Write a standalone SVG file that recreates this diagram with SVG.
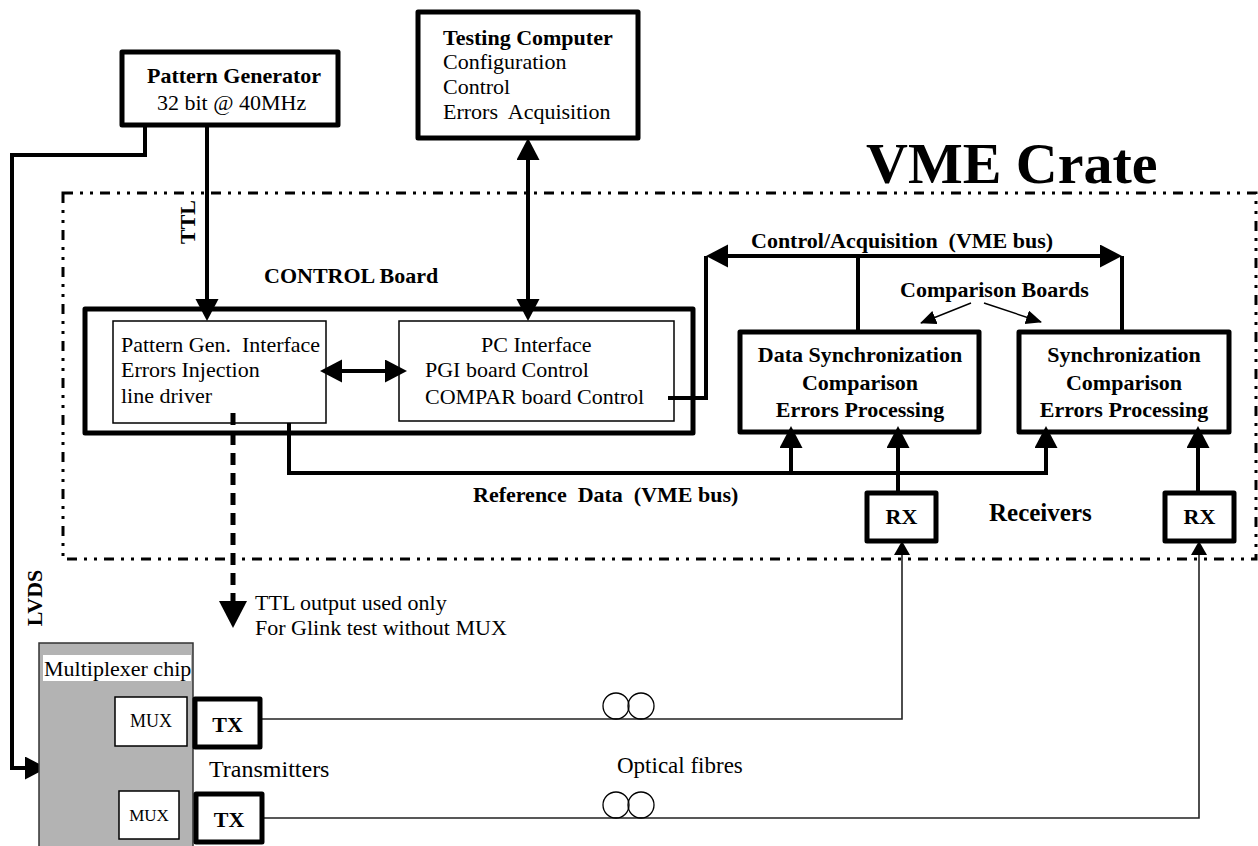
<svg xmlns="http://www.w3.org/2000/svg" width="1258" height="846" viewBox="0 0 1258 846">
<style>
text{font-family:"Liberation Serif","Times New Roman",serif;fill:#000}
.b{font-weight:bold}
.f22{font-size:22px}
.thick{fill:#fff;stroke:#000;stroke-width:5;stroke-linejoin:round}
.thin{fill:#fff;stroke:#000;stroke-width:1.5}
.con{fill:none;stroke:#000;stroke-width:4}
.fib{fill:none;stroke:#222;stroke-width:1.6}
.loop{fill:none;stroke:#000;stroke-width:1.3}
</style>
<defs>
<marker id="ah" markerUnits="userSpaceOnUse" markerWidth="24" markerHeight="24" refX="18" refY="11.5" orient="auto-start-reverse" viewBox="0 0 24 24"><path d="M0,0 L22,11.5 L0,23 z" fill="#000"/></marker>
<marker id="ahs" markerUnits="userSpaceOnUse" markerWidth="16" markerHeight="18" refX="13" refY="8" orient="auto" viewBox="0 0 16 18"><path d="M0,0 L14,8 L0,16 z" fill="#000"/></marker>
<marker id="ahc" markerUnits="userSpaceOnUse" markerWidth="18" markerHeight="16" refX="15" refY="7" orient="auto" viewBox="0 0 18 16"><path d="M0,0 L16,7 L0,14 z" fill="#000"/></marker>
<marker id="ahd" markerUnits="userSpaceOnUse" markerWidth="28" markerHeight="30" refX="0" refY="14" orient="auto" viewBox="0 0 28 30"><path d="M0,0 L27,14 L0,28 z" fill="#000"/></marker>
</defs>

<g id="vme-crate">
<rect x="63" y="193" width="1193" height="366" fill="none" stroke="#000" stroke-width="3" stroke-dasharray="10 7 3 7 3 7"/>
<text class="b" x="866" y="183" font-size="58">VME Crate</text>
</g>

<g id="connectors">
<path class="con" d="M145,125 V155 H12 V768 H43" marker-end="url(#ah)"/>
<path class="con" d="M207,125 V317" marker-end="url(#ah)"/>
<path class="con" d="M528,142 V317" marker-start="url(#ah)" marker-end="url(#ah)"/>
<path class="con" d="M324,371 H403" marker-start="url(#ah)" marker-end="url(#ah)"/>
<path class="con" d="M668,398 H706 V256"/>
<path class="con" d="M710,256 H1118" marker-start="url(#ah)" marker-end="url(#ah)"/>
<path class="con" d="M858,256 V332"/>
<path class="con" d="M1122,256 V332"/>
<path class="con" d="M289,423 V473 H1046 V430" marker-end="url(#ah)"/>
<path class="con" d="M791,473 V430" marker-end="url(#ah)"/>
<path class="con" d="M898,493 V430" marker-end="url(#ah)"/>
<path class="con" d="M1198,493 V430" marker-end="url(#ah)"/>
<path d="M233,413 V601" fill="none" stroke="#000" stroke-width="5" stroke-dasharray="12 8" marker-end="url(#ahd)"/>
<path class="fib" d="M260,719 H902 V542" marker-end="url(#ahs)"/>
<path class="fib" d="M262,818 H1199 V542" marker-end="url(#ahs)"/>
<path d="M971,303 L921,323" fill="none" stroke="#000" stroke-width="1.5" marker-end="url(#ahc)"/>
<path d="M984,303 L1041,322" fill="none" stroke="#000" stroke-width="1.5" marker-end="url(#ahc)"/>
<circle class="loop" cx="616" cy="706" r="13"/>
<circle class="loop" cx="641" cy="706" r="13"/>
<circle class="loop" cx="616" cy="805" r="13"/>
<circle class="loop" cx="641" cy="805" r="13"/>
</g>

<g id="labels">
<text class="b f22" transform="translate(195,222) rotate(-90)" text-anchor="middle">TTL</text>
<text class="b f22" transform="translate(42,598) rotate(-90)" text-anchor="middle">LVDS</text>
<text class="b f22" x="264" y="283">CONTROL Board</text>
<text class="b f22" x="751" y="248" xml:space="preserve">Control/Acquisition  (VME bus)</text>
<text class="b f22" x="900" y="297">Comparison Boards</text>
<text class="b f22" x="473" y="502" xml:space="preserve">Reference  Data  (VME bus)</text>
<text class="b" x="989" y="521" font-size="25">Receivers</text>
<text x="209" y="777" font-size="24">Transmitters</text>
<text x="617" y="773" font-size="23">Optical fibres</text>
<text class="f22" x="255" y="610">TTL output used only</text>
<text class="f22" x="255" y="635">For Glink test without MUX</text>
</g>

<g id="pattern-generator">
<rect class="thick" x="122" y="52" width="216" height="73"/>
<text class="b f22" x="147" y="83">Pattern Generator</text>
<text class="f22" x="157" y="110">32 bit @ 40MHz</text>
</g>

<g id="testing-computer">
<rect class="thick" x="418" y="12" width="220" height="126"/>
<text class="b f22" x="443" y="45">Testing Computer</text>
<text class="f22" x="443" y="69">Configuration</text>
<text class="f22" x="443" y="94">Control</text>
<text class="f22" x="443" y="119" xml:space="preserve">Errors  Acquisition</text>
</g>

<g id="control-board">
<rect class="thick" x="85" y="309" width="608" height="124" style="fill:none"/>
<rect class="thin" x="113" y="321" width="213" height="102" style="fill:none"/>
<rect class="thin" x="399" y="321" width="275" height="100" style="fill:none"/>
<text class="f22" x="121" y="352" xml:space="preserve">Pattern Gen.  Interface</text>
<text class="f22" x="121" y="377">Errors Injection</text>
<text class="f22" x="121" y="403">line driver</text>
<text class="f22" x="481" y="352">PC Interface</text>
<text class="f22" x="425" y="377">PGI board Control</text>
<text class="f22" x="425" y="404">COMPAR board Control</text>
</g>

<g id="comparison-board-1">
<rect class="thick" x="740" y="332" width="239" height="100" style="fill:none"/>
<text class="b f22" x="860" y="362" text-anchor="middle">Data Synchronization</text>
<text class="b f22" x="860" y="390" text-anchor="middle">Comparison</text>
<text class="b f22" x="860" y="417" text-anchor="middle">Errors Processing</text>
</g>

<g id="comparison-board-2">
<rect class="thick" x="1019" y="332" width="210" height="100" style="fill:none"/>
<text class="b f22" x="1124" y="362" text-anchor="middle">Synchronization</text>
<text class="b f22" x="1124" y="390" text-anchor="middle">Comparison</text>
<text class="b f22" x="1124" y="417" text-anchor="middle">Errors Processing</text>
</g>

<g id="rx-1">
<rect class="thick" x="867" y="493" width="69" height="48"/>
<text class="b f22" x="901.5" y="524" text-anchor="middle">RX</text>
</g>
<g id="rx-2">
<rect class="thick" x="1165" y="493" width="69" height="48"/>
<text class="b f22" x="1199.5" y="524" text-anchor="middle">RX</text>
</g>

<g id="multiplexer-chip">
<rect x="39" y="643" width="154" height="215" fill="#b3b3b3" stroke="#333" stroke-width="1.5"/>
<rect x="43" y="655" width="148" height="26" fill="#fff"/>
<text class="f22" x="44" y="676">Multiplexer chip</text>
</g>
<g id="mux-1">
<rect class="thin" x="115" y="697" width="72" height="49" stroke-width="1.2"/>
<text x="151" y="727" font-size="18" text-anchor="middle">MUX</text>
</g>
<g id="mux-2">
<rect class="thin" x="119" y="791" width="60" height="48" stroke-width="1.2"/>
<text x="149" y="821" font-size="17" text-anchor="middle">MUX</text>
</g>
<g id="tx-1">
<rect class="thick" x="195" y="699" width="65" height="48"/>
<text class="b f22" x="227.5" y="732" text-anchor="middle">TX</text>
</g>
<g id="tx-2">
<rect class="thick" x="196" y="794" width="66" height="48"/>
<text class="b f22" x="229" y="827" text-anchor="middle">TX</text>
</g>
</svg>
